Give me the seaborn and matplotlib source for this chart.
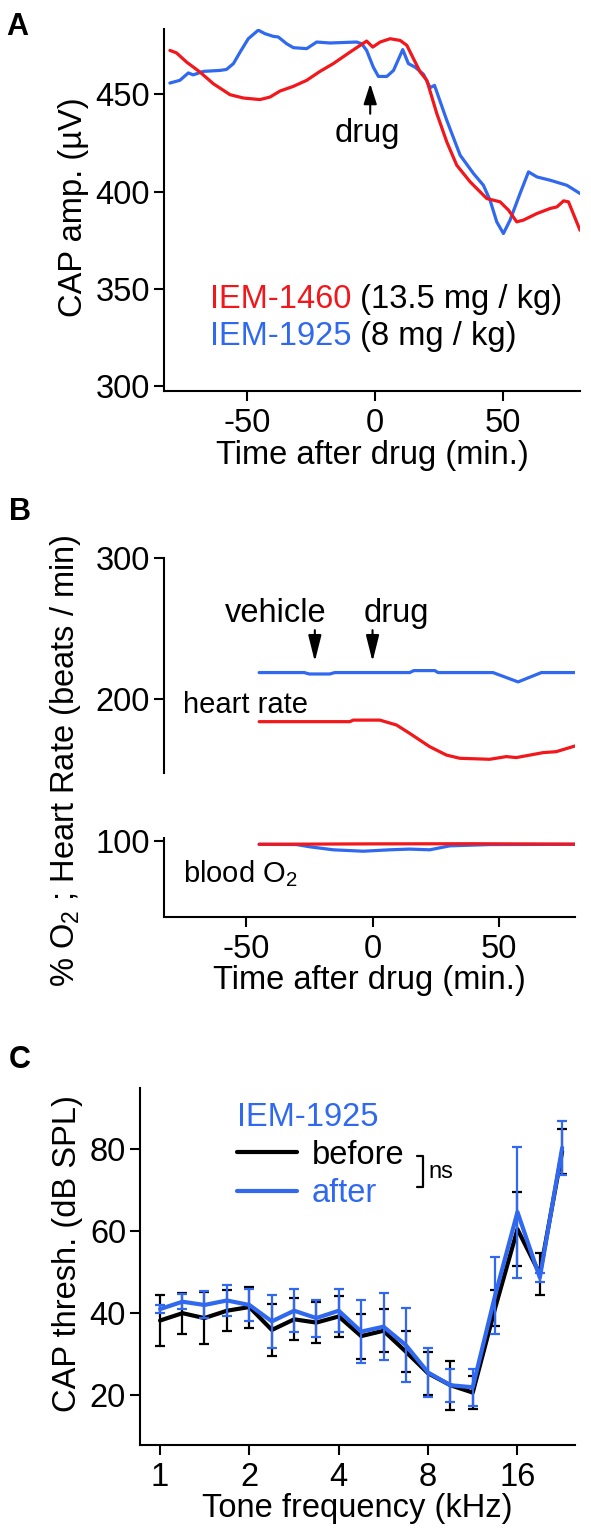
import matplotlib
matplotlib.use("Agg")
import matplotlib.pyplot as plt
import seaborn as sns

RED = "#f2171b"
BLUE = "#3069f0"
FS = 23.5

# ---- panel A: CAP amplitude vs time ----
a_t_1925 = [-80.1, -76.2, -72.9, -71.0, -67.0, -60.5, -58.0, -55.3, -52.7, -49.5,
            -45.6, -43.0, -39.7, -37.8, -34.5, -31.9, -26.7, -22.8, -17.6, -7.2,
            -5.2, -3.3, -0.7, 1.3, 4.6, 7.2, 10.8, 13.0, 15.6, 18.9,
            21.5, 23.2, 28.0, 33.2, 38.4, 42.3, 44.9, 47.5, 50.1, 52.7,
            56.6, 59.9, 63.2, 68.4, 74.9, 80.0]
a_v_1925 = [455.8, 457.2, 461.0, 460.0, 461.8, 462.3, 462.8, 465.8, 471.7, 478.6,
            483.0, 481.2, 479.8, 479.5, 476.0, 474.0, 473.5, 476.9, 476.4, 476.9,
            476.0, 472.6, 464.0, 459.2, 459.2, 462.3, 473.0, 465.8, 464.0, 460.3,
            453.4, 454.6, 436.6, 418.7, 409.3, 403.2, 395.5, 384.4, 378.4, 385.3,
            399.0, 410.1, 407.5, 405.8, 403.2, 399.0]
a_t_1460 = [-80.1, -77.5, -73.6, -68.4, -63.2, -56.6, -51.4, -44.9, -41.0, -37.1,
            -31.9, -26.7, -21.5, -16.3, -9.8, -3.3, -0.9, 2.0, 5.9, 9.8,
            12.4, 15.0, 17.6, 20.2, 24.1, 28.0, 31.9, 37.1, 43.6, 48.8,
            52.1, 55.3, 57.9, 63.2, 68.4, 71.0, 73.6, 75.5, 80.0]
a_v_1460 = [472.6, 471.3, 466.6, 461.5, 455.5, 449.8, 448.1, 447.3, 448.6, 451.7,
            454.1, 457.2, 461.8, 465.8, 471.7, 477.4, 474.3, 476.9, 478.6, 477.7,
            475.2, 468.3, 461.5, 457.2, 440.1, 425.5, 413.5, 405.0, 396.4, 394.7,
            390.4, 384.4, 385.3, 388.7, 391.3, 392.1, 395.2, 394.7, 380.1]

# ---- panel B: heart rate and blood O2 ----
hr_t_1925 = [-44.8, -27.0, -25.0, -16.9, -14.9, 14.7, 16.3, 24.6, 25.9, 47.6, 57.5, 66.7, 80.0]
hr_v_1925 = [219.0, 219.0, 218.0, 218.0, 219.0, 219.0, 220.4, 220.4, 219.0, 219.0, 212.4, 219.0, 219.0]
hr_t_1460 = [-44.8, -9.0, -7.6, 2.9, 9.5, 14.7, 22.6, 29.2, 34.5, 46.3, 52.9, 56.8, 67.4, 72.6, 80.0]
hr_v_1460 = [184.3, 184.3, 185.4, 185.4, 181.9, 176.0, 166.6, 160.7, 158.4, 157.7, 159.6, 158.9, 162.4, 163.1, 167.1]
o2_t_1925 = [-44.8, -30.0, -24.7, -15.5, -3.7, 6.8, 14.7, 22.6, 30.5, 46.3, 80.0]
o2_v_1925 = [97.6, 97.4, 95.8, 93.7, 92.7, 93.7, 94.2, 93.7, 96.5, 97.4, 97.6]
o2_t_1460 = [-44.8, 0.0, 40.0, 80.0]
o2_v_1460 = [97.6, 97.9, 98.0, 97.7]

# ---- panel C: CAP thresholds ----
freq_khz = [1.0, 1.19, 1.41, 1.68, 2.0, 2.38, 2.83, 3.36, 4.0, 4.76,
            5.66, 6.73, 8.0, 9.51, 11.31, 13.45, 16.0, 19.03, 22.63]
thr_before = [38.2, 40.0, 38.8, 40.6, 41.5, 35.9, 38.5, 37.7, 39.2, 34.4,
              35.7, 30.6, 25.3, 22.4, 20.6, 41.2, 60.5, 49.6, 79.5]
err_before = [6.3, 5.0, 6.3, 5.0, 5.0, 6.4, 5.1, 5.1, 5.0, 5.5,
              5.3, 5.0, 5.3, 6.0, 4.0, 4.4, 9.0, 5.2, 5.5]
thr_after = [41.0, 42.8, 42.0, 43.1, 42.0, 38.0, 40.6, 38.8, 40.6, 35.5,
             36.7, 32.2, 25.5, 22.4, 21.9, 44.3, 64.7, 48.7, 80.4]
err_after = [1.0, 1.8, 3.3, 3.7, 3.8, 6.5, 5.3, 4.5, 5.3, 7.7,
             8.2, 9.1, 6.0, 4.0, 4.5, 9.3, 16.0, 1.0, 6.6]

sns.set_theme(style="ticks")
plt.rcParams["font.family"] = ["Liberation Sans", "DejaVu Sans"]
plt.rcParams.update({
    "font.size": FS,
    "text.color": "black",
    "axes.labelcolor": "black",
    "axes.unicode_minus": False,
    "mathtext.fontset": "custom",
    "mathtext.rm": "Liberation Sans",
    "mathtext.default": "regular",
    "axes.linewidth": 1.5,
    "axes.edgecolor": "black",
    "xtick.major.size": 7,
    "ytick.major.size": 7,
    "xtick.major.width": 1.5,
    "ytick.major.width": 1.5,
    "xtick.color": "black",
    "ytick.color": "black",
    "xtick.labelsize": FS,
    "ytick.labelsize": FS,
    "axes.labelsize": FS,
})

W, H = 591, 1540
fig = plt.figure(figsize=(W / 100, H / 100), dpi=100)


def px_axes(left, top, right, bottom):
    return fig.add_axes([left / W, 1 - bottom / H, (right - left) / W, (bottom - top) / H])


def style(ax):
    sns.despine(ax=ax)
    ax.tick_params(axis="x", pad=5)
    ax.tick_params(axis="y", pad=3)


def arrow(ax, x, y_tip, y_base, head_len):
    ax.annotate("", xy=(x, y_tip), xytext=(x, y_base),
                arrowprops=dict(arrowstyle=f"-|>,head_length={head_len},head_width=0.2",
                                mutation_scale=20, lw=1.5, color="black",
                                shrinkA=0, shrinkB=0))


# ---------- A ----------
axA = px_axes(164, 29, 580, 391)
sns.lineplot(x=a_t_1925, y=a_v_1925, ax=axA, color=BLUE, lw=2.3)
sns.lineplot(x=a_t_1460, y=a_v_1460, ax=axA, color=RED, lw=2.3)
axA.set_xlim(-82.4, 80)
axA.set_ylim(297.4, 483.6)
axA.set_xticks([-50, 0, 50])
axA.set_yticks([300, 350, 400, 450])
style(axA)
axA.set_xlabel("Time after drug (min.)")
axA.set_ylabel("CAP amp. (µV)")
axA.xaxis.set_label_coords(0.5, -0.135)
axA.yaxis.set_label_coords(-0.18, 0.508)
arrow(axA, -1.9, 455.5, 440.0, 0.62)
axA.text(-3.2, 425.5, "drug", ha="center", va="baseline", fontsize=FS)
t1 = axA.text(-64.5, 339.9, "IEM-1460", color=RED, fontsize=FS, va="baseline")
axA.annotate(" (13.5 mg / kg)", xy=(1, 0), xycoords=t1, fontsize=FS,
             va="bottom", ha="left", color="black")
t2 = axA.text(-64.5, 321.0, "IEM-1925", color=BLUE, fontsize=FS, va="baseline")
axA.annotate(" (8 mg / kg)", xy=(1, 0), xycoords=t2, fontsize=FS,
             va="bottom", ha="left", color="black")

# ---------- B ----------
axB = px_axes(164, 558, 575, 917)
sns.lineplot(x=hr_t_1925, y=hr_v_1925, ax=axB, color=BLUE, lw=2.3)
sns.lineplot(x=hr_t_1460, y=hr_v_1460, ax=axB, color=RED, lw=2.3)
sns.lineplot(x=o2_t_1925, y=o2_v_1925, ax=axB, color=BLUE, lw=2.3)
sns.lineplot(x=o2_t_1460, y=o2_v_1460, ax=axB, color=RED, lw=2.3)
axB.set_xlim(-82.4, 80)
axB.set_ylim(46.2, 300)
axB.set_xticks([-50, 0, 50])
axB.set_yticks([100, 200, 300])
style(axB)
axB.spines["left"].set_bounds(148, 300)
axB.plot([0, 0], [46.2, 103], transform=axB.get_yaxis_transform(),
         color="black", lw=1.5, clip_on=False, solid_capstyle="butt")
axB.set_xlabel("Time after drug (min.)")
axB.set_ylabel("% O$_2$ ; Heart Rate (beats / min)")
axB.xaxis.set_label_coords(0.5, -0.134)
axB.yaxis.set_label_coords(-0.197, 0.435)
for xa in (-22.8, 0.0):
    arrow(axB, xa, 226.8, 249.0, 0.8)
axB.text(-38.2, 255.1, "vehicle", ha="center", va="baseline", fontsize=FS)
axB.text(9.5, 255.1, "drug", ha="center", va="baseline", fontsize=FS)
axB.text(-75, 190.2, "heart rate", ha="left", va="baseline", fontsize=21)
axB.text(-75, 71.0, "blood O$_2$", ha="left", va="baseline", fontsize=21)

# ---------- C ----------
axC = px_axes(140, 1088, 575, 1445)
axC.set_xscale("log", base=2)
axC.errorbar(freq_khz, thr_before, yerr=err_before, fmt="none", ecolor="black",
             elinewidth=1.6, capsize=3.8, capthick=1.6)
sns.lineplot(x=freq_khz, y=thr_before, ax=axC, color="black", lw=3, label="before")
axC.errorbar(freq_khz, thr_after, yerr=err_after, fmt="none", ecolor=BLUE,
             elinewidth=1.6, capsize=3.8, capthick=1.6)
sns.lineplot(x=freq_khz, y=thr_after, ax=axC, color=BLUE, lw=3, label="after")
axC.set_xlim(0.856, 25)
axC.set_ylim(7.8, 95)
axC.set_xticks([1, 2, 4, 8, 16])
axC.set_xticklabels(["1", "2", "4", "8", "16"])
axC.minorticks_off()
axC.set_yticks([20, 40, 60, 80])
style(axC)
axC.set_xlabel("Tone frequency (kHz)")
axC.set_ylabel("CAP thresh. (dB SPL)")
axC.xaxis.set_label_coords(0.5, -0.135)
axC.yaxis.set_label_coords(-0.13, 0.536)
leg = axC.legend(title="IEM-1925", loc="upper left", bbox_to_anchor=(0.223, 0.962),
                 frameon=False, fontsize=FS, title_fontsize=FS, borderpad=0,
                 borderaxespad=0, handlelength=1.85, handletextpad=0.45,
                 labelspacing=0.22, alignment="left")
leg.get_title().set_color(BLUE)
leg.get_texts()[1].set_color(BLUE)
# "ns" bracket
axC.plot([0.636, 0.651, 0.651, 0.636], [0.8095, 0.8095, 0.7218, 0.7218],
         transform=axC.transAxes, color="black", lw=1.6, clip_on=False)
axC.text(0.662, 0.748, "ns", transform=axC.transAxes, fontsize=17, va="baseline")

# panel letters
for lab, x, y in (("A", 6, 35), ("B", 9, 520), ("C", 9, 1068)):
    fig.text(x / W, 1 - y / H, lab, fontsize=22, fontweight="bold", va="baseline")

fig.savefig("out.png", dpi=100)
